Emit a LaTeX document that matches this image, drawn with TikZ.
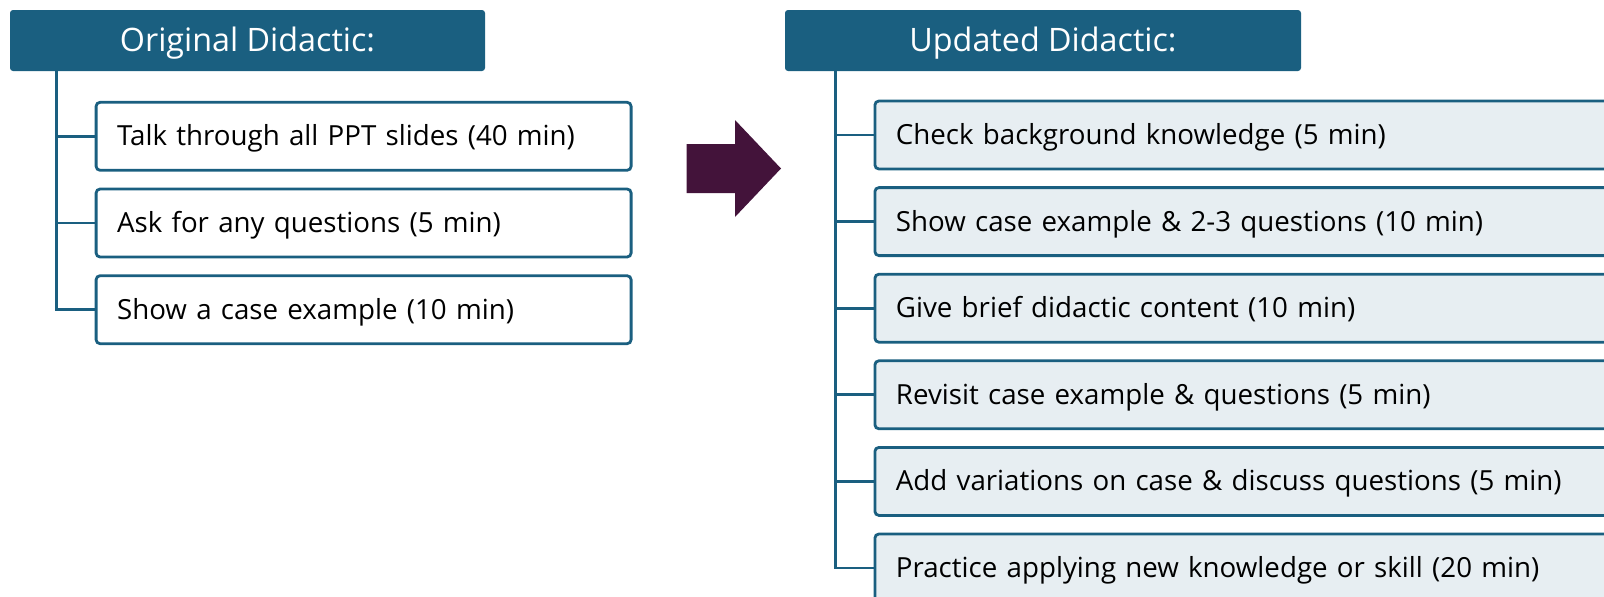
\documentclass[tikz,border=0pt]{standalone}
\usepackage{fontspec}
\setmainfont{Open Sans}
\definecolor{didblue}{HTML}{1A5F80}
\definecolor{didpale}{HTML}{E7EEF2}
\definecolor{didplum}{HTML}{43133A}
\tikzset{
  didhead/.style={fill=didblue, rounded corners=3pt, text=white,
    font=\fontsize{32.3}{38}\selectfont, minimum height=61pt, inner sep=0pt,
    text height=30pt, text depth=8pt},
  didbox/.style={draw=didblue, line width=2.8pt, rounded corners=4pt,
    minimum height=68pt, text width=#1, align=left, inner xsep=21pt,
    inner ysep=0pt, font=\fontsize{27.7}{32}\selectfont, text=black,
    text height=26pt, text depth=7pt},
  trunk/.style={draw=didblue, line width=2.8pt}
}
\begin{document}
\begin{tikzpicture}[x=1pt,y=1pt]
\path[use as bounding box, clip] (0,0) rectangle (1604,-597);
% the two headings
\node[didhead, minimum width=475pt] (orig) at (247.5,-40.5) {Original Didactic:};
\node[didhead, minimum width=516pt] (upd) at (1043,-40.5) {Updated Didactic:};
% old session plan
\coordinate (otop) at (56.3,-71);
\foreach \txt [count=\i] in {Talk through all PPT slides (40 min),
    Ask for any questions (5 min), Show a case example (10 min)}
{
  \node[didbox=493pt, fill=white, anchor=west] (o\i) at (94.7,{-136.3-86.7*(\i-1)}) {\txt};
  \draw[trunk] (otop) |- (o\i.west);
}
% the arrow in between
\fill[didplum] (686.7,-144) -- (735,-144) -- (735,-120) -- (781,-168.5)
  -- (735,-217) -- (735,-193) -- (686.7,-193) -- cycle;
% new session plan
\coordinate (utop) at (835.5,-71);
\foreach \txt [count=\i] in {Check background knowledge (5 min),
    Show case example \& 2-3 questions (10 min),
    Give brief didactic content (10 min),
    Revisit case example \& questions (5 min),
    Add variations on case \& discuss questions (5 min),
    Practice applying new knowledge or skill (20 min)}
{
  \node[didbox=738pt, fill=didpale, anchor=west] (u\i) at (873.5,{-135-86.6*(\i-1)}) {\txt};
  \draw[trunk] (utop) |- (u\i.west);
}
\end{tikzpicture}
\end{document}
